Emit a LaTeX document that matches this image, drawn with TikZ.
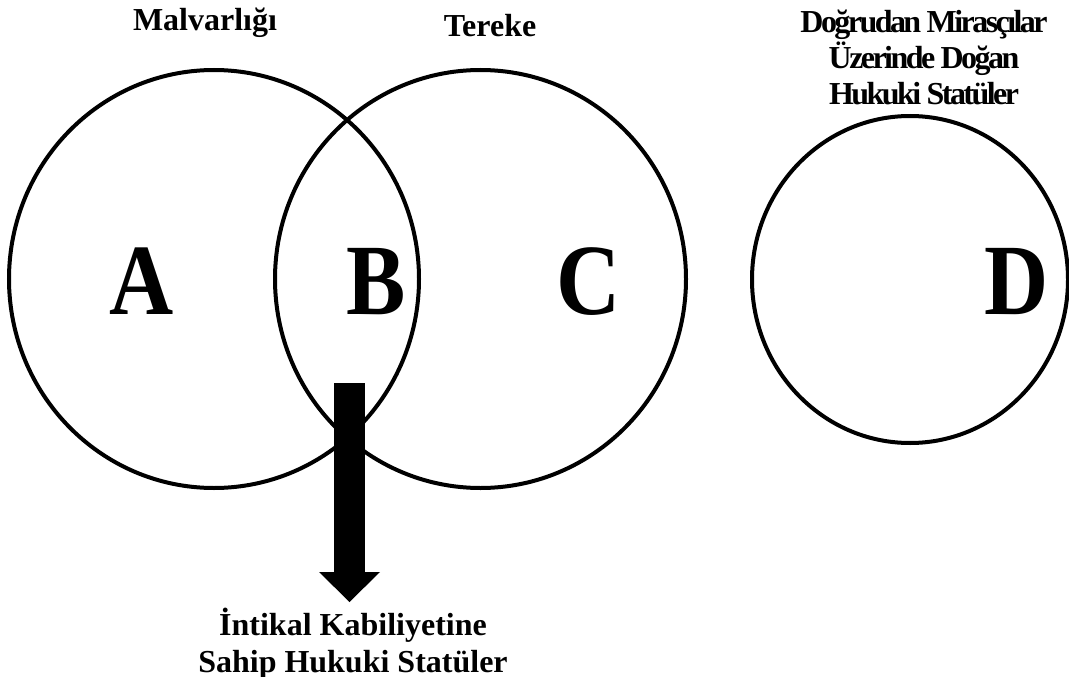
\documentclass[tikz,border=0pt]{standalone}
\usepackage{fontspec}
\setmainfont{Liberation Serif}
\usetikzlibrary{arrows.meta,shapes.geometric}
\begin{document}
\begin{tikzpicture}[x=1pt,y=-1pt,
  setring/.style={draw, ellipse, line width=4pt, inner sep=0pt, outer sep=0pt},
  setlabel/.style={font=\fontsize{32}{37}\selectfont\bfseries, inner sep=0pt, align=center},
  tightlabel/.style={font=\fontsize{32}{36.5}\selectfont\bfseries\addfontfeature{LetterSpace=-8}, inner sep=0pt, align=center},
  bigletter/.style={font=\fontsize{101}{101}\selectfont\bfseries, inner sep=0pt, anchor=base},
  bigarrow/.style={line width=31pt, -{Triangle[width=61pt,length=30pt,line width=0pt]}}]
\useasboundingbox (0,0) rectangle (1069,677);

% the three sets
\node[setring, minimum width=410pt, minimum height=418pt] (mal) at (214,279) {};
\node[setring, minimum width=411pt, minimum height=418pt] (ter) at (480.5,279) {};
\node[setring, minimum width=316pt, minimum height=327pt] (dog) at (910,279.5) {};

% region letters
\node[bigletter] (la) at (142,314) {\scalebox{0.88}[1]{A}};
\node[bigletter] (lb) at (376.5,314) {\scalebox{0.88}[1]{B}};
\node[bigletter] (lc) at (589,314) {\scalebox{0.88}[1]{C}};
\node[bigletter] (ld) at (1017,314) {\scalebox{0.88}[1]{D}};

% set titles (base anchor sits on the last line)
\node[setlabel, anchor=base] (tmal) at (205,31) {Malvarlığı};
\node[setlabel, anchor=base] (tter) at (490,37) {Tereke};
\node[tightlabel, anchor=base] (tdog) at (924,105) {Doğrudan Mirasçılar\\Üzerinde Doğan\\Hukuki Statüler};

% transferable statuses
\node[setlabel, anchor=base] (tint) at (353,672) {İntikal Kabiliyetine\\Sahip Hukuki Statüler};
\coordinate (arrtop) at (349.5,383);
\coordinate (arrtip) at (349.5,602);
\draw[bigarrow] (arrtop) -- (arrtip);
\end{tikzpicture}
\end{document}
